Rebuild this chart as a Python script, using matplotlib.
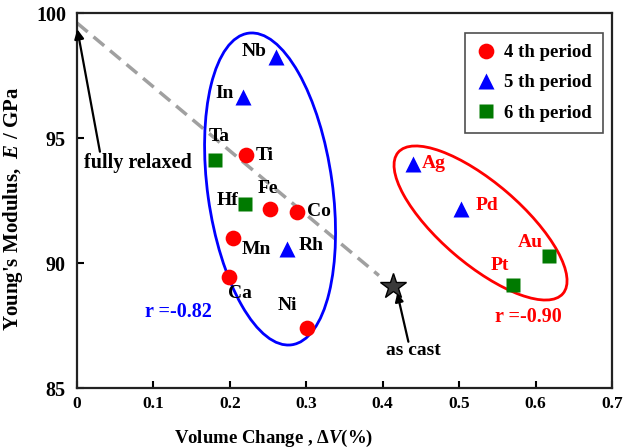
import numpy as np
import matplotlib
matplotlib.use("Agg")
import matplotlib.pyplot as plt
from matplotlib.patches import Ellipse
from matplotlib.transforms import ScaledTranslation

plt.rcParams['font.family'] = ['Liberation Serif', 'DejaVu Serif']
plt.rcParams['font.weight'] = 'bold'
plt.rcParams['mathtext.fontset'] = 'custom'
plt.rcParams['mathtext.rm'] = 'Liberation Serif:bold'
plt.rcParams['mathtext.it'] = 'Liberation Serif:italic:bold'
plt.rcParams['mathtext.bf'] = 'Liberation Serif:bold'

# ---- data ----
p4_names = ["Ti", "Fe", "Co", "Mn", "Ca", "Ni"]
p4_x = [0.2215, 0.252, 0.288, 0.2035, 0.199, 0.3015]
p4_y = [94.32, 92.16, 92.05, 91.01, 89.43, 87.41]

p5_names = ["Nb", "In", "Rh", "Ag", "Pd"]
p5_x = [0.261, 0.217, 0.275, 0.439, 0.503]
p5_y = [98.25, 96.63, 90.55, 93.95, 92.15]

p6_names = ["Ta", "Hf", "Au", "Pt"]
p6_x = [0.180, 0.220, 0.617, 0.570]
p6_y = [94.12, 92.36, 90.28, 89.12]

cast_x = [0.4137]
cast_y = [89.08]

trend_x = [0.0, 0.395]
trend_y = [99.6, 89.5]

# label positions (text anchor)
label_pos = {
    "Nb": (0.248, 98.45, 'right', 'black'),
    "In": (0.205, 96.8, 'right', 'black'),
    "Ta": (0.172, 95.05, 'left', 'black'),
    "Ti": (0.234, 94.32, 'left', 'black'),
    "Fe": (0.237, 93.0, 'left', 'black'),
    "Hf": (0.211, 92.52, 'right', 'black'),
    "Co": (0.301, 92.05, 'left', 'black'),
    "Mn": (0.2155, 90.55, 'left', 'black'),
    "Rh": (0.2897, 90.72, 'left', 'black'),
    "Ca": (0.198, 88.79, 'left', 'black'),
    "Ni": (0.263, 88.32, 'left', 'black'),
    "Ag": (0.451, 93.99, 'left', 'red'),
    "Pd": (0.521, 92.32, 'left', 'red'),
    "Au": (0.577, 90.81, 'left', 'red'),
    "Pt": (0.5415, 89.92, 'left', 'red'),
}

fig = plt.figure(figsize=(6.32, 4.48), dpi=100)
ax = fig.add_axes([77/632, 60/448, 535/632, 375/448])
ax.set_xlim(0, 0.7)
ax.set_ylim(85, 100)
ax.set_xticks(np.arange(0, 0.71, 0.1))
ax.set_xticklabels(["0", "0.1", "0.2", "0.3", "0.4", "0.5", "0.6", "0.7"])
ax.set_yticks([85, 90, 95, 100])
ax.tick_params(direction='in', length=5, width=1.5, pad=6,
               top=False, right=False)
ax.tick_params(axis='x', labelsize=12.5)
ax.tick_params(axis='y', labelsize=14.5, pad=8)
for s in ax.spines.values():
    s.set_linewidth(1.6)
    s.set_color('#222222')

# trend line
ax.plot(trend_x, trend_y, color='#a0a0a0', lw=2.5, dashes=(4, 2.2), zorder=1)

# ellipses (sizes in inches, centred in data coords)
def add_ellipse(cx, cy, w, h, ang, color):
    tr = fig.dpi_scale_trans + ScaledTranslation(cx, cy, ax.transData)
    e = Ellipse((0, 0), w, h, angle=ang, transform=tr, fill=False,
                edgecolor=color, lw=2.0, zorder=2)
    ax.add_patch(e)

add_ellipse(0.2526, 92.96, 3.146, 1.248, -82.1, '#0000ff')
add_ellipse(0.528, 91.6, 2.17, 0.812, -40.6, '#ff0000')

ax.plot(p4_x, p4_y, 'o', ms=11.3, color='#ff0000', mec='none', zorder=3,
        label='4 th period')
ax.plot(p5_x, p5_y, '^', ms=11, color='#0000ff', mec='none', zorder=3,
        label='5 th period')
ax.plot(p6_x, p6_y, 's', ms=10.3, color='#007a00', mec='none', zorder=3,
        label='6 th period')
ax.plot(cast_x, cast_y, '*', ms=19, color='#3a3a3a', mec='black', mew=1.0,
        zorder=4)

for name, (tx, ty, ha, col) in label_pos.items():
    ax.text(tx, ty, name, ha=ha, va='center', fontsize=14, color=col,
            fontweight='bold', zorder=5)

ax.text(0.089, 88.05, "r =-0.82", ha='left', va='center', fontsize=14.5,
        color='#0000ff', fontweight='bold')
ax.text(0.547, 87.85, "r =-0.90", ha='left', va='center', fontsize=14.5,
        color='#ff0000', fontweight='bold')

# annotations
ax.text(0.080, 94.0, "fully relaxed", ha='center', va='center',
        fontsize=14.5, fontweight='bold')
ax.annotate("", xy=(0.0004, 99.35), xytext=(0.030, 94.45),
            arrowprops=dict(arrowstyle='-|>', color='black', lw=1.6,
                            mutation_scale=14, shrinkA=0, shrinkB=0))
ax.text(0.440, 86.49, "as cast", ha='center', va='center',
        fontsize=14, fontweight='bold')
ax.annotate("", xy=(0.419, 88.79), xytext=(0.4336, 86.85),
            arrowprops=dict(arrowstyle='-|>', color='black', lw=1.6,
                            mutation_scale=12, shrinkA=0, shrinkB=0))

leg = ax.legend(loc='upper right', bbox_to_anchor=(603.3/632, (448-32.7)/448),
                bbox_transform=fig.transFigure, fontsize=13.5, frameon=True,
                fancybox=False, edgecolor='#222222', borderpad=0.6,
                borderaxespad=0, labelspacing=0.7, handlelength=1.0,
                handletextpad=0.5, numpoints=1)
leg.get_frame().set_linewidth(1.2)

ax.set_xlabel("Volume Change , $\\mathit{\\Delta V}$(%)", fontsize=13.5,
              fontweight='bold')
ax.xaxis.set_label_coords(0.368, -0.1075)
ax.set_ylabel("Young's Modulus,  $\\mathit{E}$ / GPa", fontsize=15,
              fontweight='bold')
ax.yaxis.set_label_coords(-0.097, 0.477)

fig.savefig("out.png", dpi=100)
